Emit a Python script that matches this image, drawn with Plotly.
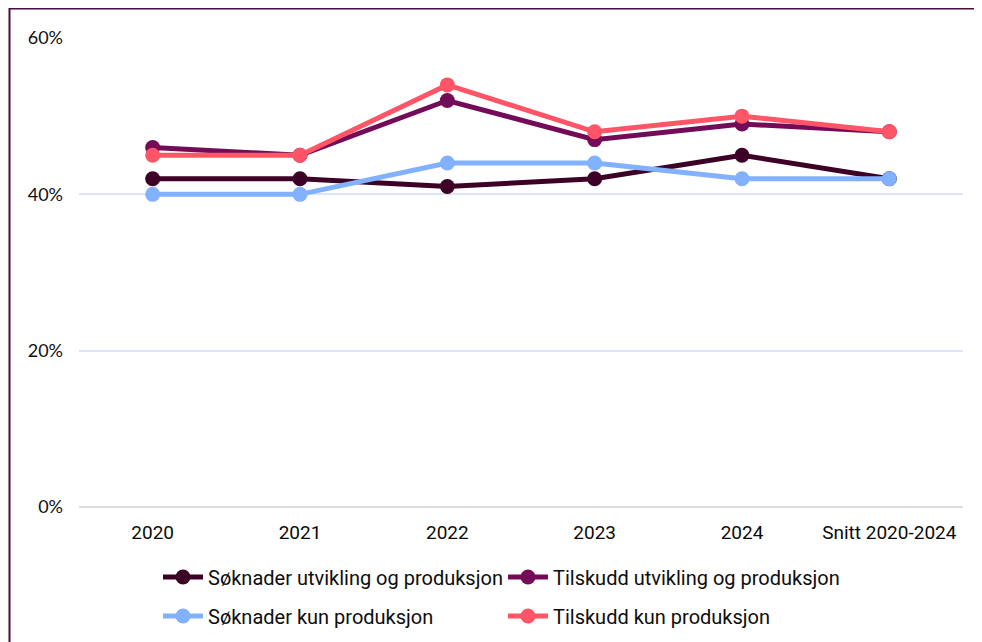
import plotly.graph_objects as go

categories = ["2020", "2021", "2022", "2023", "2024", "Snitt 2020-2024"]
soknader_utv = [42, 42, 41, 42, 45, 42]
tilskudd_utv = [46, 45, 52, 47, 49, 48]
soknader_kun = [40, 40, 44, 44, 42, 42]
tilskudd_kun = [45, 45, 54, 48, 50, 48]

series = [
    ("Søknader utvikling og produksjon", soknader_utv, "#3d0026", "legend"),
    ("Tilskudd utvikling og produksjon", tilskudd_utv, "#730b58", "legend"),
    ("Søknader kun produksjon", soknader_kun, "#82b1ff", "legend2"),
    ("Tilskudd kun produksjon", tilskudd_kun, "#ff5566", "legend2"),
]

fig = go.Figure()
for name, vals, col, lg in series:
    fig.add_trace(go.Scatter(
        x=categories, y=vals, name=name, mode="lines+markers",
        line=dict(color=col, width=5), marker=dict(color=col, size=15),
        legend=lg,
    ))

# page has an 8px body margin; figure sized to fit the window
OFF = 8
W, H = 974, 634
ml, mr, mt, mb = 71, 19, 30, 135
pw, ph = W - ml - mr, H - mt - mb

def px(x):  # window pixel -> paper x
    return (x - OFF - ml) / pw

def py(y):  # window pixel -> paper y
    return (H - mb - (y - OFF)) / ph

legfont = dict(family="Roboto", size=20, color="#0d0d0d")
common_leg = dict(orientation="h", xanchor="left", yanchor="middle",
                  entrywidth=290, entrywidthmode="pixels", font=legfont,
                  itemwidth=40, bgcolor="rgba(0,0,0,0)")

fig.update_layout(
    width=W, height=H,
    margin=dict(l=ml, r=mr, t=mt, b=mb, autoexpand=False),
    paper_bgcolor="white", plot_bgcolor="white",
    font=dict(family="Roboto", size=15, color="#111111"),
    showlegend=True,
    legend=dict(x=px(158), y=py(577), **common_leg),
    legend2=dict(x=px(158), y=py(616), **common_leg),
    xaxis=dict(
        type="category", range=[-0.5, 5.5],
        showgrid=False, zeroline=False, showline=False,
        ticks="", ticklabelstandoff=12, automargin=False,
        tickfont=dict(family="Roboto", size=19, color="#0a0a0a"),
    ),
    yaxis=dict(
        range=[0, 60], tickvals=[0, 20, 40, 60], ticktext=["0%", "20%", "40%", "60%"],
        showgrid=True, gridcolor="#dbe5fa", gridwidth=1.5,
        zeroline=True, zerolinecolor="#dddddd", zerolinewidth=2,
        showline=False, ticks="", ticklabelstandoff=15, automargin=False,
        tickfont=dict(family="Lato", size=18, color="#111111"),
    ),
    shapes=[dict(
        type="rect", xref="paper", yref="paper",
        x0=px(9.5), x1=px(1000), y0=py(700), y1=py(8.5),
        line=dict(color="#4b0b3d", width=2), fillcolor="rgba(0,0,0,0)",
    )],
)

fig.write_html("out.html")
